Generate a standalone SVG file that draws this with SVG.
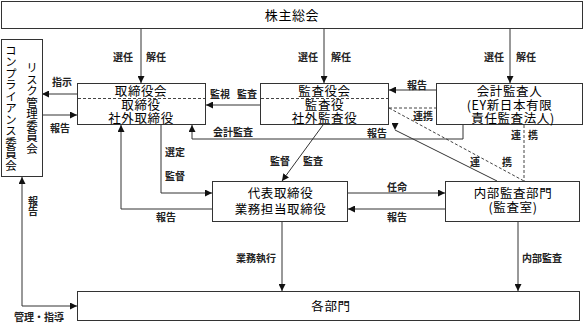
<svg xmlns="http://www.w3.org/2000/svg" width="584" height="325" viewBox="0 0 584 325">
<style>
.box{fill:#fff;stroke:#333;stroke-width:1}
.ln{fill:none;stroke:#333;stroke-width:1}
.dl{fill:none;stroke:#444;stroke-width:1;stroke-dasharray:3 2}
.nt{font-family:"Noto Sans CJK JP","Noto Sans",sans-serif;font-size:12.5px;letter-spacing:0.6px;fill:#000;text-anchor:middle}
.lb{font-family:"Noto Sans CJK JP","Noto Sans",sans-serif;font-size:10px;font-weight:bold;fill:#222;text-anchor:middle}
.vt{writing-mode:vertical-rl;text-orientation:upright;letter-spacing:0}
</style>
<defs>
<marker id="ah" viewBox="0 0 8 8" refX="8" refY="4" markerWidth="7" markerHeight="7" markerUnits="userSpaceOnUse" orient="auto-start-reverse"><path d="M0,0 L8,4 L0,8 z" fill="#111"/></marker>
<marker id="ad" viewBox="0 0 8 8" refX="8" refY="4" markerWidth="7" markerHeight="7" markerUnits="userSpaceOnUse" orient="90"><path d="M0,0 L8,4 L0,8 z" fill="#111"/></marker>
</defs>
<g id="connectors">
<path class="ln" d="M141,28 V83" marker-end="url(#ah)"/>
<path class="ln" d="M324,28 V83" marker-end="url(#ah)"/>
<path class="ln" d="M510,28 V83" marker-end="url(#ah)"/>
<path class="ln" d="M77,94 H42" marker-end="url(#ah)"/>
<path class="ln" d="M42,115 H77" marker-end="url(#ah)"/>
<path class="ln" d="M260,105 H206" marker-end="url(#ah)"/>
<path class="ln" d="M436,90 H389" marker-end="url(#ah)"/>
<path class="dl" d="M389,108 H436"/>
<path class="dl" d="M389,108 L524,181"/>
<path class="dl" d="M524,125 V181"/>
<path class="ln" d="M463,125 V139 H192 V125" marker-end="url(#ah)"/>
<path class="ln" d="M497,181 L395,130" marker-end="url(#ad)"/>
<path class="ln" d="M323,125 L282,181" marker-end="url(#ah)"/>
<path class="ln" d="M161,125 V193 H212" marker-end="url(#ah)"/>
<path class="ln" d="M212,209 H121 V125" marker-end="url(#ah)"/>
<path class="ln" d="M348,193 H445" marker-end="url(#ah)"/>
<path class="ln" d="M445,209 H348" marker-end="url(#ah)"/>
<path class="ln" d="M282,222 V291" marker-end="url(#ah)"/>
<path class="ln" d="M518,222 V291" marker-end="url(#ah)"/>
<path class="ln" d="M22,177 V306 H77" marker-start="url(#ah)" marker-end="url(#ah)"/>
<text class="lb" x="123" y="61">選任</text>
<text class="lb" x="156" y="61">解任</text>
<text class="lb" x="308" y="61">選任</text>
<text class="lb" x="341" y="61">解任</text>
<text class="lb" x="494" y="61">選任</text>
<text class="lb" x="526" y="61">解任</text>
<text class="lb" x="62" y="86">指示</text>
<text class="lb" x="60" y="132">報告</text>
<text class="lb" x="220" y="98">監視</text>
<text class="lb" x="247" y="98">監査</text>
<text class="lb" x="417" y="89">報告</text>
<text class="lb" x="423" y="120">連携</text>
<text class="lb" x="233" y="136">会計監査</text>
<text class="lb" x="377" y="137">報告</text>
<text class="lb" x="516" y="139">連</text>
<text class="lb" x="533" y="139">携</text>
<text class="lb" x="475" y="166">連</text>
<text class="lb" x="507" y="166">携</text>
<text class="lb" x="280" y="165">監督</text>
<text class="lb" x="313" y="165">監査</text>
<text class="lb" x="175" y="156">選定</text>
<text class="lb" x="175" y="180">監督</text>
<text class="lb" x="166" y="221">報告</text>
<text class="lb" x="397" y="191">任命</text>
<text class="lb" x="397" y="221">報告</text>
<text class="lb" x="256" y="262">業務執行</text>
<text class="lb" x="542" y="262">内部監査</text>
<text class="lb" x="39" y="321">管理・指導</text>
<text class="lb vt" x="33" y="206">報告</text>
</g>
<g id="shareholders">
<rect class="box" x="1.5" y="1.5" width="581" height="27"/>
<text class="nt" x="292" y="20" style="font-size:13px">株主総会</text>
</g>
<g id="committees">
<rect class="box" x="1.5" y="39.5" width="41" height="137"/>
<text class="nt vt" x="32" y="108" style="font-size:11.5px">リスク管理委員会</text>
<text class="nt vt" x="11" y="108" style="font-size:11.5px">コンプライアンス委員会</text>
</g>
<g id="board">
<rect class="box" x="77.5" y="83.5" width="128" height="41"/>
<path class="dl" d="M78,98.5 H205"/>
<text class="nt" x="141" y="96">取締役会</text>
<text class="nt" x="141" y="110">取締役</text>
<text class="nt" x="141" y="123">社外取締役</text>
</g>
<g id="auditors">
<rect class="box" x="260.5" y="83.5" width="128" height="41"/>
<path class="dl" d="M261,98.5 H388"/>
<text class="nt" x="324.5" y="96">監査役会</text>
<text class="nt" x="324.5" y="110">監査役</text>
<text class="nt" x="324.5" y="123">社外監査役</text>
</g>
<g id="accountant">
<rect class="box" x="436.5" y="83.5" width="146" height="41"/>
<text class="nt" x="509.5" y="96">会計監査人</text>
<text class="nt" x="509.5" y="110">(EY新日本有限</text>
<text class="nt" x="513" y="123">責任監査法人)</text>
</g>
<g id="president">
<rect class="box" x="212.5" y="181.5" width="135" height="40"/>
<text class="nt" x="280.5" y="198">代表取締役</text>
<text class="nt" x="280.5" y="213.5">業務担当取締役</text>
</g>
<g id="internal-audit">
<rect class="box" x="445.5" y="181.5" width="134" height="40"/>
<text class="nt" x="513" y="198">内部監査部門</text>
<text class="nt" x="513" y="212">(監査室)</text>
</g>
<g id="departments">
<rect class="box" x="77.5" y="291.5" width="502" height="29"/>
<text class="nt" x="331" y="311">各部門</text>
</g>
</svg>
